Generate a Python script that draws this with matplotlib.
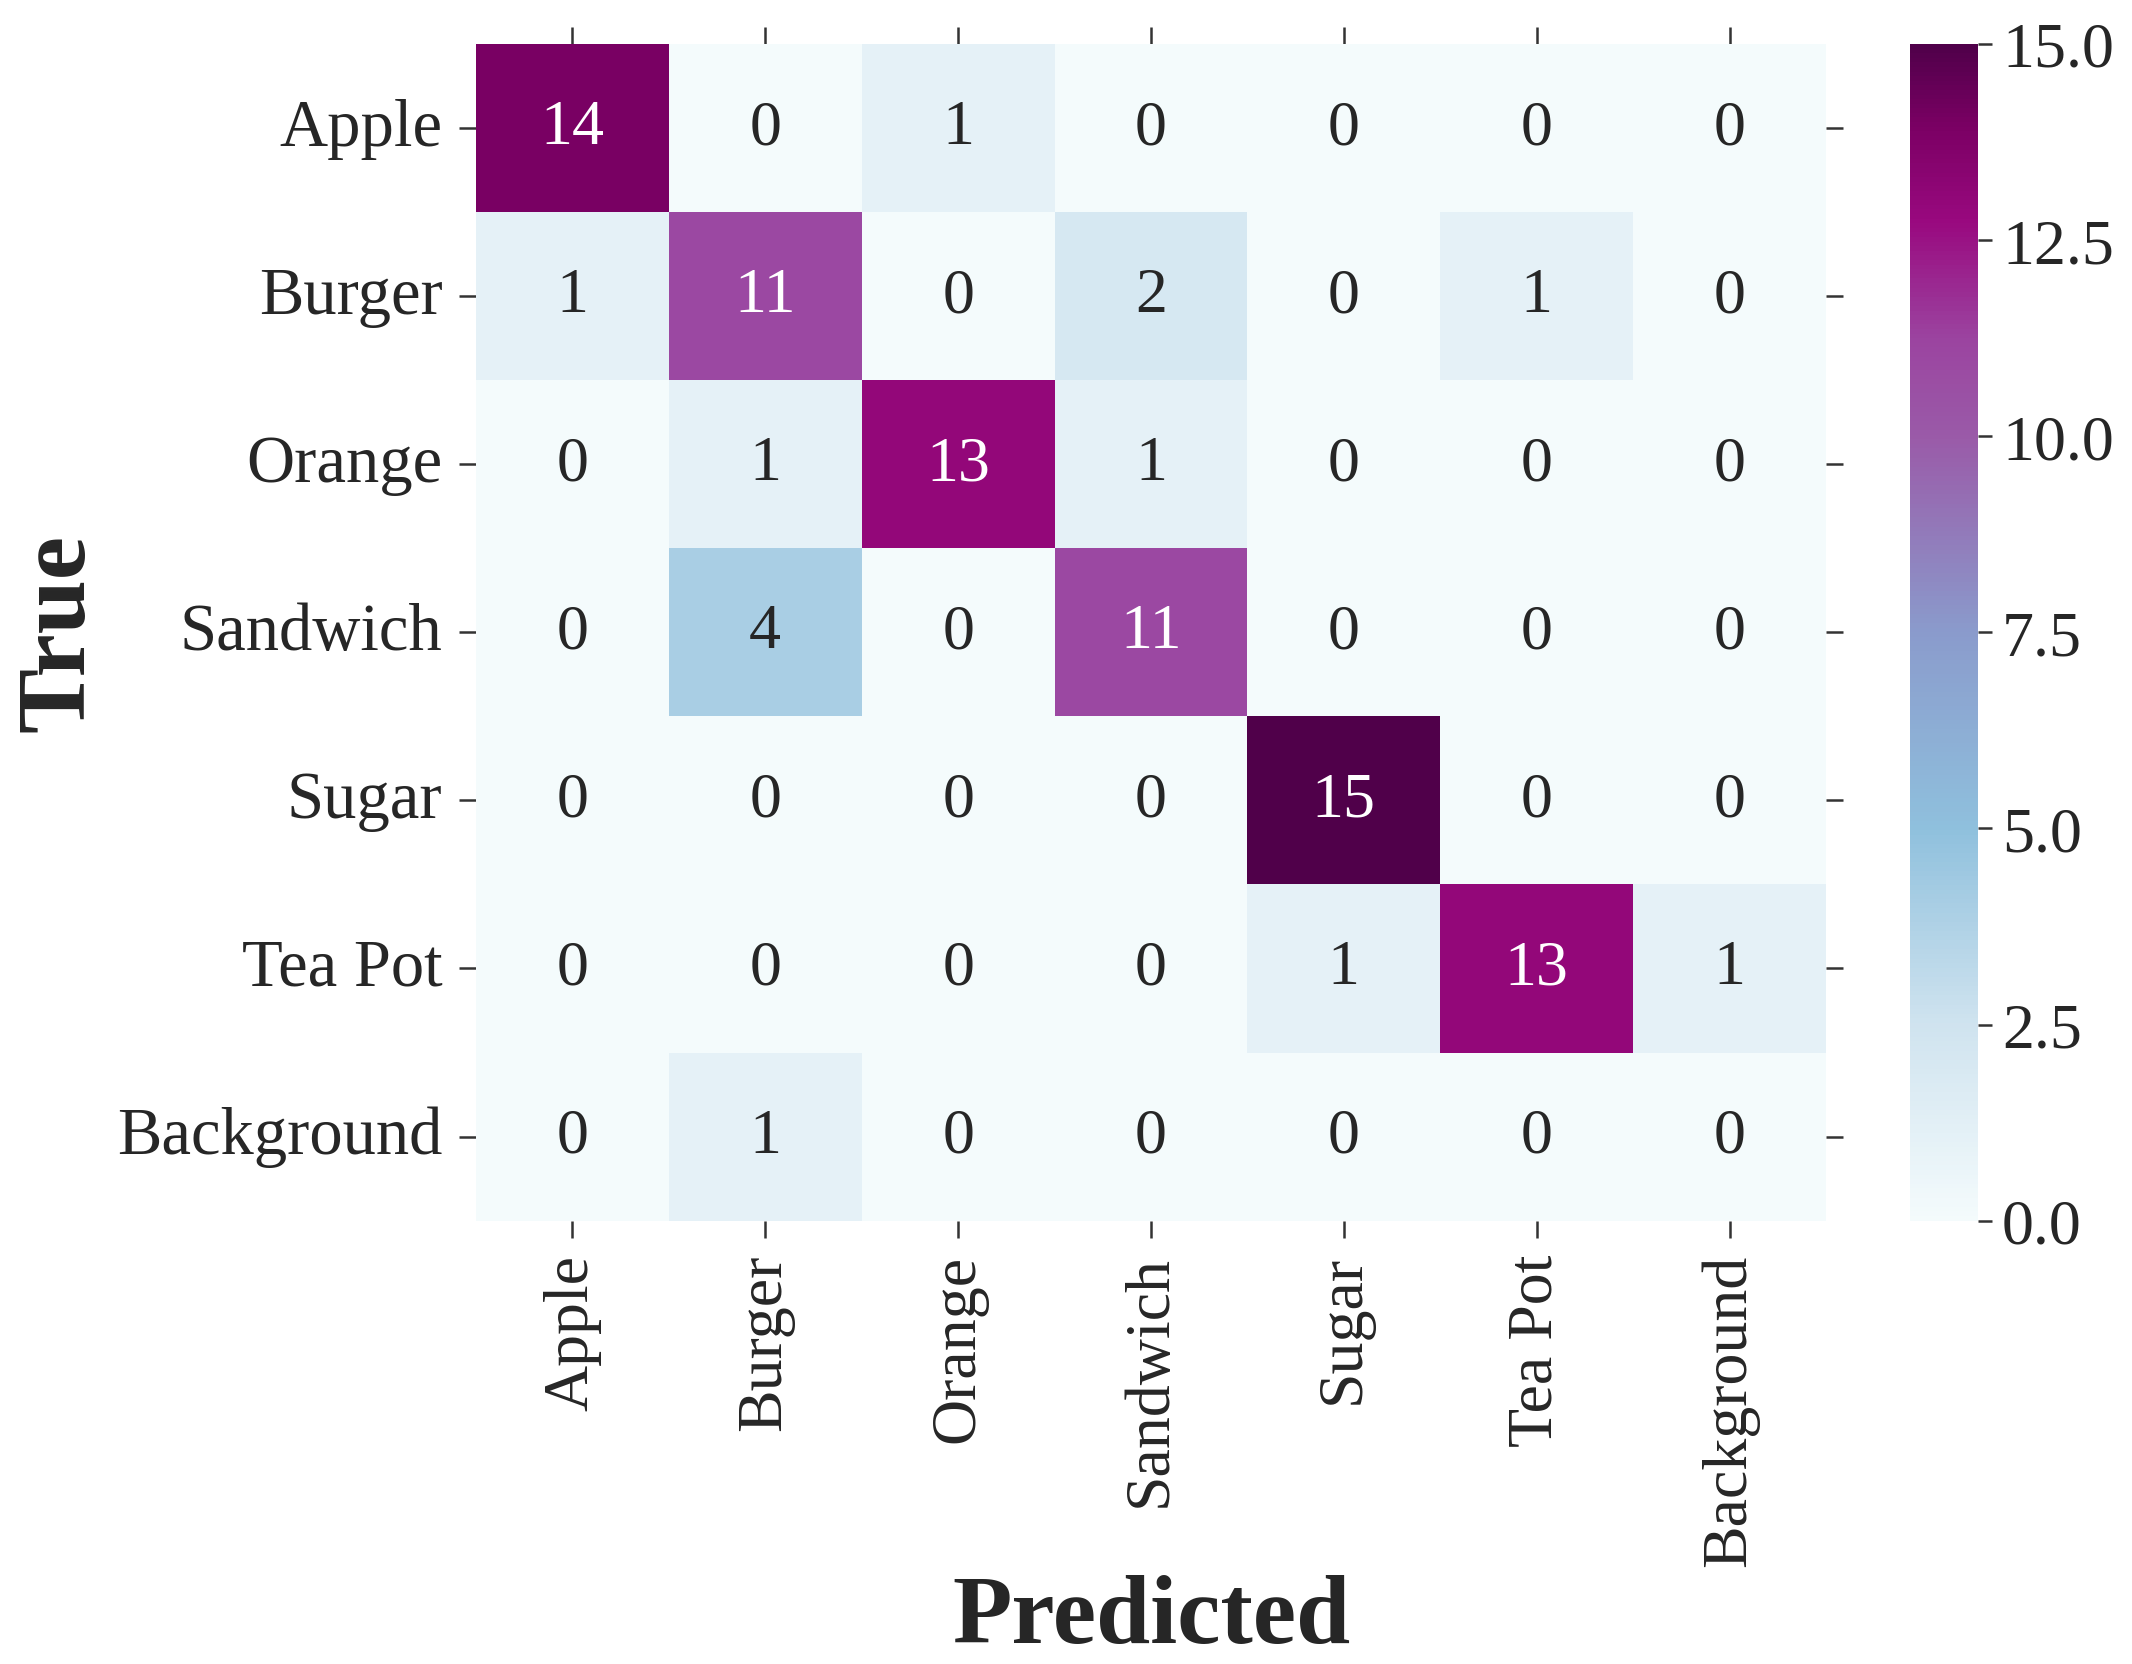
import numpy as np
import matplotlib
matplotlib.use("Agg")
import matplotlib.pyplot as plt
import seaborn as sns
from matplotlib.colors import LinearSegmentedColormap

sns.set_style("ticks")
plt.rcParams.update({'font.family': ["Liberation Serif", "DejaVu Serif"]})

# данные матрицы ошибок
classes = ["Apple", "Burger", "Orange", "Sandwich", "Sugar", "Tea Pot", "Background"]
cm = np.array([
    [14, 0, 1, 0, 0, 0, 0],
    [1, 11, 0, 2, 0, 1, 0],
    [0, 1, 13, 1, 0, 0, 0],
    [0, 4, 0, 11, 0, 0, 0],
    [0, 0, 0, 0, 15, 0, 0],
    [0, 0, 0, 0, 1, 13, 1],
    [0, 1, 0, 0, 0, 0, 0],
])
cbar_ticks = [0.0, 2.5, 5.0, 7.5, 10.0, 12.5, 15.0]

# палитра близкая к BuPu
cmap = LinearSegmentedColormap.from_list("bupu_sat", [
    (0.0, "#f4fbfc"),
    (0.167, "#cfe3ef"),
    (0.333, "#8fc0dd"),
    (0.5, "#8a9bcc"),
    (0.667, "#9a5aa8"),
    (0.75, "#9b44a0"),
    (0.85, "#99097f"),
    (0.93, "#7b0064"),
    (1.0, "#50004a"),
])

fig = plt.figure(figsize=(10.66, 8.325), dpi=200)
ax = fig.add_axes([0.2232, 0.2663, 0.6333, 0.7067])
cax = fig.add_axes([0.896, 0.2663, 0.032, 0.7067])

sns.heatmap(cm, annot=True, fmt="d", cmap=cmap, vmin=0, vmax=15, ax=ax, cbar_ax=cax,
            annot_kws={"fontsize": 23}, xticklabels=classes, yticklabels=classes,
            cbar_kws={"ticks": cbar_ticks})

ax.tick_params(axis='both', which='major', length=6, width=0.9, pad=6,
               top=True, right=True, direction='out', color='#333333')
ax.tick_params(axis='y', labelsize=24)
ax.tick_params(axis='x', labelsize=23)
ax.set_xticklabels(classes, rotation=90)
ax.set_yticklabels(classes, rotation=0)
ax.set_xlabel("Predicted", fontsize=35, fontweight='bold')
ax.set_ylabel("True", fontsize=35, fontweight='bold')
ax.xaxis.set_label_coords(0.5, -0.30)
ax.yaxis.set_label_coords(-0.275, 0.5)

cax.tick_params(labelsize=23, length=5, width=0.9, color='#333333')
cax.set_yticklabels([f"{t:.1f}" for t in cbar_ticks])
for s in cax.spines.values():
    s.set_visible(False)

plt.savefig("out.png", dpi=200)
